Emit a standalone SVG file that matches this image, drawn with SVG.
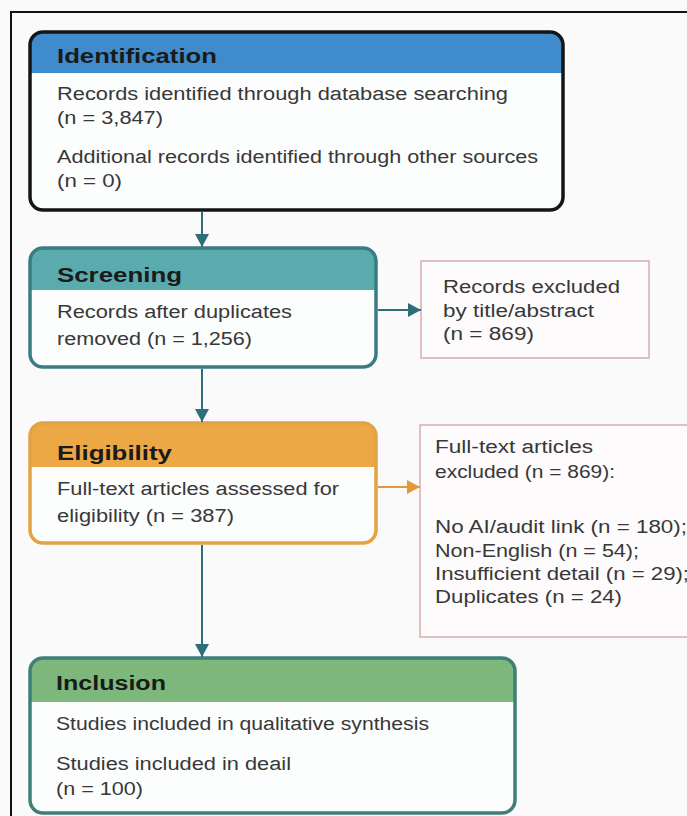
<svg xmlns="http://www.w3.org/2000/svg" width="687" height="816" viewBox="0 0 687 816">
<defs>
<marker id="arrT" markerUnits="userSpaceOnUse" markerWidth="16" markerHeight="16" viewBox="0 0 16 16" refX="14" refY="8" orient="auto">
<path d="M1,1 L14,8 L1,15 Z" fill="#2d6e79"/>
</marker>
<marker id="arrO" markerUnits="userSpaceOnUse" markerWidth="16" markerHeight="16" viewBox="0 0 16 16" refX="14" refY="8" orient="auto">
<path d="M1,1 L14,8 L1,15 Z" fill="#e09a3a"/>
</marker>
</defs>
<style>
.t{font-family:"Liberation Sans",Arial,sans-serif;font-size:18px;fill:#383838}
.h{font-family:"Liberation Sans",Arial,sans-serif;font-size:20px;font-weight:bold;fill:#1a1a1a}
.body{fill:#fcfdfd}
.ex{fill:#fdfbfb;stroke:#d6aeae;stroke-width:1.5}
.c{fill:none;stroke:#2d6e79;stroke-width:2}
</style>
<rect width="687" height="816" fill="#fafafa"/>
<path d="M11,816 V12 H687" fill="none" stroke="#111" stroke-width="2"/>

<g id="identification">
<rect class="body" x="30" y="32" width="533" height="178" rx="13"/>
<path d="M30,73 V45 a13,13 0 0 1 13,-13 H550 a13,13 0 0 1 13,13 V73 Z" fill="#3f8bcb"/>
<rect x="30" y="32" width="533" height="178" rx="13" fill="none" stroke="#151515" stroke-width="3.5"/>
<text class="h" x="57" y="63" textLength="160" lengthAdjust="spacingAndGlyphs">Identification</text>
<text class="t" x="57" y="100" textLength="451" lengthAdjust="spacingAndGlyphs">Records identified through database searching</text>
<text class="t" x="57" y="124" textLength="106" lengthAdjust="spacingAndGlyphs">(n = 3,847)</text>
<text class="t" x="57" y="163" textLength="481" lengthAdjust="spacingAndGlyphs">Additional records identified through other sources</text>
<text class="t" x="57" y="187" textLength="65" lengthAdjust="spacingAndGlyphs">(n = 0)</text>
</g>

<g id="screening">
<rect class="body" x="30" y="248" width="346" height="119" rx="13"/>
<path d="M30,290 V261 a13,13 0 0 1 13,-13 H363 a13,13 0 0 1 13,13 V290 Z" fill="#5aabae"/>
<rect x="30" y="248" width="346" height="119" rx="13" fill="none" stroke="#3b7c84" stroke-width="3.5"/>
<text class="h" x="57" y="282" textLength="125" lengthAdjust="spacingAndGlyphs">Screening</text>
<text class="t" x="57" y="318" textLength="235" lengthAdjust="spacingAndGlyphs">Records after duplicates</text>
<text class="t" x="57" y="345" textLength="195" lengthAdjust="spacingAndGlyphs">removed (n = 1,256)</text>
</g>

<g id="excluded-title">
<rect class="ex" x="421" y="261" width="228" height="97"/>
<text class="t" x="443" y="293" textLength="177" lengthAdjust="spacingAndGlyphs">Records excluded</text>
<text class="t" x="443" y="317" textLength="151" lengthAdjust="spacingAndGlyphs">by title/abstract</text>
<text class="t" x="443" y="340" textLength="91" lengthAdjust="spacingAndGlyphs">(n = 869)</text>
</g>

<g id="eligibility">
<rect class="body" x="30" y="423" width="346" height="120" rx="13"/>
<path d="M30,467 V436 a13,13 0 0 1 13,-13 H363 a13,13 0 0 1 13,13 V467 Z" fill="#eca845"/>
<rect x="30" y="423" width="346" height="120" rx="13" fill="none" stroke="#e2a245" stroke-width="3.5"/>
<text class="h" x="57" y="460" textLength="115" lengthAdjust="spacingAndGlyphs">Eligibility</text>
<text class="t" x="57" y="495" textLength="282" lengthAdjust="spacingAndGlyphs">Full-text articles assessed for</text>
<text class="t" x="57" y="522" textLength="177" lengthAdjust="spacingAndGlyphs">eligibility (n = 387)</text>
</g>

<g id="excluded-fulltext">
<rect class="ex" x="420" y="425" width="300" height="212"/>
<text class="t" x="435" y="453" textLength="158" lengthAdjust="spacingAndGlyphs">Full-text articles</text>
<text class="t" x="435" y="478" textLength="180" lengthAdjust="spacingAndGlyphs">excluded (n = 869):</text>
<text class="t" x="435" y="533" textLength="252" lengthAdjust="spacingAndGlyphs">No AI/audit link (n = 180);</text>
<text class="t" x="435" y="557" textLength="204" lengthAdjust="spacingAndGlyphs">Non-English (n = 54);</text>
<text class="t" x="435" y="580" textLength="254" lengthAdjust="spacingAndGlyphs">Insufficient detail (n = 29);</text>
<text class="t" x="435" y="603" textLength="187" lengthAdjust="spacingAndGlyphs">Duplicates (n = 24)</text>
</g>

<g id="inclusion">
<rect class="body" x="30" y="658" width="485" height="155" rx="13"/>
<path d="M30,702 V671 a13,13 0 0 1 13,-13 H502 a13,13 0 0 1 13,13 V702 Z" fill="#7db77c"/>
<rect x="30" y="658" width="485" height="155" rx="13" fill="none" stroke="#3e7f78" stroke-width="3.5"/>
<text class="h" x="56" y="690" textLength="110" lengthAdjust="spacingAndGlyphs">Inclusion</text>
<text class="t" x="56" y="730" textLength="373" lengthAdjust="spacingAndGlyphs">Studies included in qualitative synthesis</text>
<text class="t" x="56" y="770" textLength="235" lengthAdjust="spacingAndGlyphs">Studies included in deail</text>
<text class="t" x="56" y="795" textLength="87" lengthAdjust="spacingAndGlyphs">(n = 100)</text>
</g>

<g id="connectors">
<line class="c" x1="202" y1="212" x2="202" y2="247" marker-end="url(#arrT)"/>
<line class="c" x1="378" y1="310" x2="421" y2="310" marker-end="url(#arrT)"/>
<line class="c" x1="202" y1="369" x2="202" y2="422" marker-end="url(#arrT)"/>
<line x1="378" y1="487" x2="420" y2="487" stroke="#e09a3a" stroke-width="2" marker-end="url(#arrO)"/>
<line class="c" x1="202" y1="545" x2="202" y2="657" marker-end="url(#arrT)"/>
</g>
</svg>
